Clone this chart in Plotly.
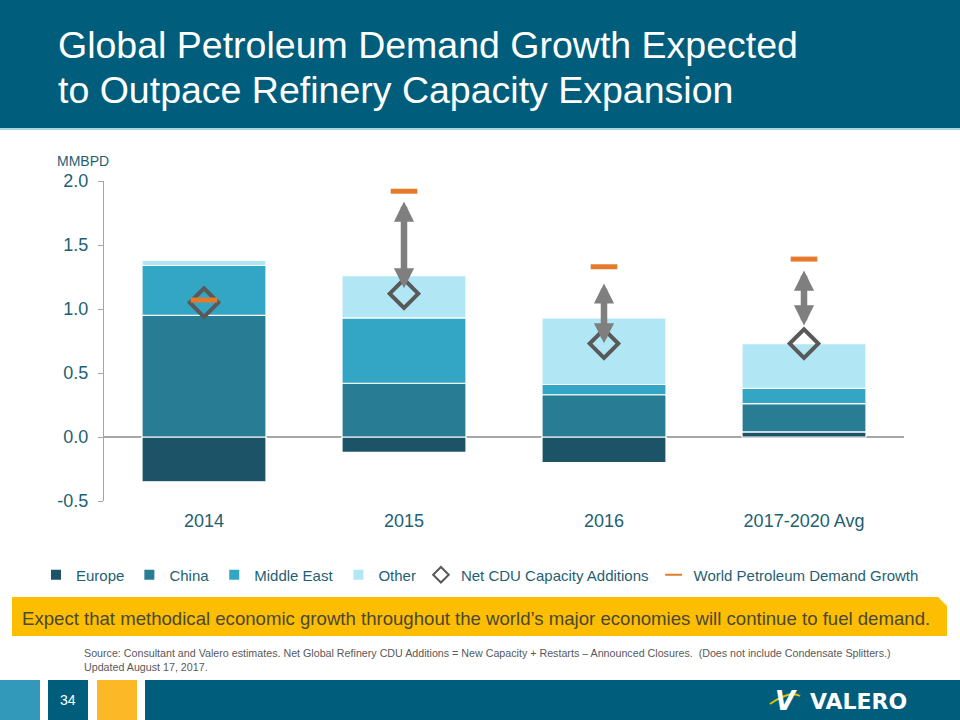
import plotly.graph_objects as go

categories = ["2014", "2015", "2016", "2017-2020 Avg"]
europe = [-0.35, -0.12, -0.20, 0.04]
china = [0.95, 0.42, 0.33, 0.22]
middle_east = [0.39, 0.51, 0.08, 0.12]
other = [0.04, 0.33, 0.52, 0.35]
net_cdu = [1.05, 1.12, 0.73, 0.73]
world_demand = [1.07, 1.92, 1.33, 1.39]
arrow_low = [None, 1.15, 0.72, 0.86]
arrow_high = [None, 1.84, 1.20, 1.30]
y_ticks = [-0.5, 0.0, 0.5, 1.0, 1.5, 2.0]
y_tick_labels = ["-0.5", "0.0", "0.5", "1.0", "1.5", "2.0"]
title_lines = ["Global Petroleum Demand Growth Expected", "to Outpace Refinery Capacity Expansion"]

TEAL_TXT = "#1F5F73"
HEADER = "#005E7C"
FONT = "Liberation Sans, Arial"

fig = go.Figure()
bar_line = dict(color="white", width=1.2)
fig.add_bar(name="Europe", x=categories, y=europe, marker=dict(color="#1D5366", line=bar_line))
fig.add_bar(name="China", x=categories, y=china, marker=dict(color="#287C93", line=bar_line))
fig.add_bar(name="Middle East", x=categories, y=middle_east, marker=dict(color="#33A6C6", line=bar_line))
fig.add_bar(name="Other", x=categories, y=other, marker=dict(color="#B1E7F5", line=bar_line))
fig.add_scatter(name="Net CDU Capacity Additions", x=categories, y=net_cdu, mode="markers",
                marker=dict(symbol="diamond-open", size=22, color="#595959",
                            line=dict(color="#595959", width=4)))
fig.add_scatter(name="World Petroleum Demand Growth", x=categories, y=world_demand, mode="markers",
                marker=dict(symbol="line-ew-open", size=19, color="#E57A2A",
                            line=dict(color="#E57A2A", width=5)))

annotations = []
for i, (lo, hi) in enumerate(zip(arrow_low, arrow_high)):
    if lo is None:
        continue
    annotations.append(dict(x=i, y=hi, ax=i, ay=lo, xref="x", yref="y", axref="x", ayref="y",
                            text="", showarrow=True, arrowhead=2, arrowside="end+start",
                            arrowsize=0.62, arrowwidth=6.5, arrowcolor="#7F7F7F"))

for line, yc in zip(title_lines, [45, 90]):
    annotations.append(dict(xref="paper", yref="paper", x=56/960, y=1 - yc/720, xanchor="left", yanchor="middle",
                            text=line, showarrow=False, align="left",
                            font=dict(family=FONT, size=37.5, color="white")))
annotations.append(dict(xref="paper", yref="paper", x=55/960, y=1 - 161/720, xanchor="left", yanchor="middle",
                        text="MMBPD", showarrow=False,
                        font=dict(family=FONT, size=14, color=TEAL_TXT)))
annotations.append(dict(xref="paper", yref="paper", x=476/960, y=1 - 618/720, xanchor="center", yanchor="middle",
                        text="Expect that methodical economic growth throughout the world\u2019s major economies will continue to fuel demand.",
                        showarrow=False,
                        font=dict(family=FONT, size=18.6, color="#4A4838")))
annotations.append(dict(xref="paper", yref="paper", x=82/960, y=1 - 660/720, xanchor="left", yanchor="middle",
                        text="Source: Consultant and Valero estimates. Net Global Refinery CDU Additions = New Capacity + Restarts \u2013 Announced Closures.  (Does not include Condensate Splitters.)<br>Updated August 17, 2017.",
                        showarrow=False, align="left",
                        font=dict(family=FONT, size=10.7, color="#595959")))
annotations.append(dict(xref="paper", yref="paper", x=68/960, y=1 - 700/720, xanchor="center", yanchor="middle",
                        text="34", showarrow=False,
                        font=dict(family=FONT, size=14, color="white")))
annotations.append(dict(xref="paper", yref="paper", x=786/960, y=1 - 701/720, xanchor="center", yanchor="middle",
                        text="<b><i>V</i></b>", showarrow=False,
                        font=dict(family="DejaVu Sans", size=26, color="white")))
annotations.append(dict(xref="paper", yref="paper", x=808/960, y=1 - 701/720, xanchor="left", yanchor="middle",
                        text="<b>VALERO</b>", showarrow=False,
                        font=dict(family="DejaVu Sans", size=22, color="white")))

shapes = [
    dict(type="rect", xref="paper", yref="paper", x0=0, x1=1, y0=1 - 128/720, y1=1,
         fillcolor=HEADER, line=dict(width=0), layer="below"),
    dict(type="rect", xref="paper", yref="paper", x0=0, x1=1, y0=1 - 130/720, y1=1 - 128/720,
         fillcolor="#A8D5E2", line=dict(width=0), layer="below"),
    dict(type="path", xref="paper", yref="paper",
         path="M {},{} L {},{} L {},{} L {},{} L {},{} Z".format(
             12/960, 1 - 597/720, 938/960, 1 - 597/720, 947/960, 1 - 606/720,
             947/960, 1 - 636/720, 12/960, 1 - 636/720),
         fillcolor="#FDBD00", line=dict(width=0), layer="below"),
    dict(type="rect", xref="paper", yref="paper", x0=0, x1=40/960, y0=0, y1=1 - 680/720,
         fillcolor="#3399BB", line=dict(width=0), layer="below"),
    dict(type="rect", xref="paper", yref="paper", x0=48/960, x1=88/960, y0=0, y1=1 - 680/720,
         fillcolor=HEADER, line=dict(width=0), layer="below"),
    dict(type="rect", xref="paper", yref="paper", x0=97/960, x1=137/960, y0=0, y1=1 - 680/720,
         fillcolor="#FDB827", line=dict(width=0), layer="below"),
    dict(type="rect", xref="paper", yref="paper", x0=145/960, x1=1, y0=0, y1=1 - 680/720,
         fillcolor=HEADER, line=dict(width=0), layer="below"),
    dict(type="path", xref="paper", yref="paper",
         path="M {},{} Q {},{} {},{}".format(770/960, 1 - 704/720, 790/960, 1 - 690/720, 800/960, 1 - 696/720),
         line=dict(color="#D9C400", width=2)),
]

fig.update_layout(
    width=960, height=720, autosize=False,
    margin=dict(l=0, r=0, t=0, b=0, pad=0, autoexpand=False),
    paper_bgcolor="white", plot_bgcolor="white",
    barmode="relative", bargap=0.38,
    showlegend=True,
    legend=dict(orientation="h", x=0.5, xanchor="center", y=1 - 575/720, yanchor="middle",
                font=dict(family=FONT, size=15, color=TEAL_TXT),
                itemwidth=30, itemsizing="constant", tracegroupgap=0, traceorder="normal"),
    xaxis=dict(type="category", range=[-0.5, len(categories) - 0.5], autorange=False, automargin=False,
               domain=[104/960, 904/960], showline=False, ticks="", showgrid=False,
               ticklabelstandoff=7,
               tickfont=dict(family=FONT, size=18, color=TEAL_TXT)),
    yaxis=dict(domain=[1 - 501/720, 1 - 181/720], range=[-0.5, 2.0], automargin=False,
               tickmode="array", tickvals=y_ticks, ticktext=y_tick_labels,
               showgrid=False, showline=True, linecolor="#A6A6A6", linewidth=1.3,
               ticks="outside", ticklen=5, tickcolor="#A6A6A6", ticklabelstandoff=6,
               zeroline=True, zerolinecolor="#A6A6A6", zerolinewidth=1.5,
               tickfont=dict(family=FONT, size=18, color=TEAL_TXT)),
    annotations=annotations, shapes=shapes,
    font=dict(family=FONT),
)

fig.write_html("out.html")
